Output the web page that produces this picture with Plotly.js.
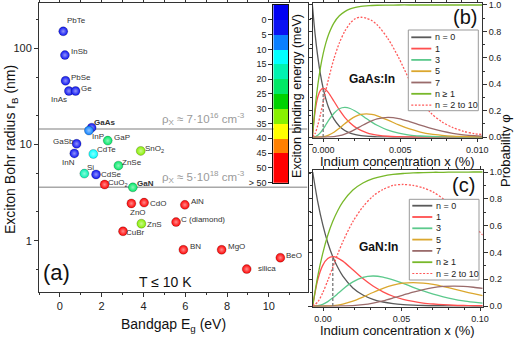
<!DOCTYPE html>
<html>
<head>
<meta charset="utf-8">
<script src="https://cdn.plot.ly/plotly-3.0.1.min.js"></script>
<style>
  html, body { margin: 0; padding: 0; background: #fff; }
  #plot { width: 518px; height: 339px; }
</style>
</head>
<body>
<div id="plot"></div>
<script>
// ---- panel (a): exciton Bohr radius vs bandgap ----
var materials = ['PbTe', 'InSb', 'PbSe', 'InAs', 'Ge', 'GaAs', 'InP', 'GaSb', 'InN', 'GaP', 'CdTe',
  'SnO<sub>2</sub>', 'ZnSe', 'Si', 'CdSe', 'CuO<sub>2</sub>', 'GaN', 'ZnO', 'CdO', 'AlN', 'ZnS',
  'C (diamond)', 'CuBr', 'BN', 'MgO', 'silica', 'BeO'];
var gapEv = [0.16, 0.24, 0.27, 0.43, 0.75, 1.52, 1.39, 0.80, 0.69, 2.29, 1.60,
  3.87, 2.80, 1.17, 1.73, 2.14, 3.49, 3.42, 4.03, 5.98, 3.90,
  5.56, 3.02, 5.91, 7.74, 8.94, 10.55];
var bohrNm = [150, 85, 46, 36, 36, 15, 14, 10.2, 8.1, 11, 8.0,
  8.6, 6.05, 5.0, 4.9, 3.85, 3.6, 2.45, 2.5, 2.37, 1.51,
  1.57, 1.26, 0.81, 0.81, 0.51, 0.67];
var bindingMeV = [2.5, 2.5, 2.5, 2.5, 2.5, 2.5, 7.5, 2.5, 2.5, 22.5, 12.5,
  32.5, 22.5, 17.5, 2.5, 55, 22.5, 55, 55, 55, 32.5,
  55, 55, 55, 55, 55, 55];
var boldLabels = ['GaAs', 'GaN'];
var rhoBohr = [14.5, 3.6];
var rhoText = ['ρ<sub>X</sub> ≈ 7·10<sup>16</sup> cm<sup>-3</sup>', 'ρ<sub>X</sub> ≈ 5·10<sup>18</sup> cm<sup>-3</sup>'];

// colour bar bands (meV)
var bandMid = [-2.5, 2.5, 7.5, 12.5, 17.5, 22.5, 27.5, 32.5, 37.5, 42.5, 47.5, 52.5];
var bandTicks = [0, 5, 10, 15, 20, 25, 30, 35, 40, 45, 50, 55];
var bandTickText = ['0', '5', '10', '15', '20', '25', '30', '35', '40', '45', '50', '> 50'];

// ---- panels (b) GaAs:In and (c) GaN:In ----
var seriesNames = ['n = 0', '1', '3', '5', '7', 'n ≥ 1', 'n = 2 to 10'];

var bX = [-0.0007, -0.000525, -0.00035, -0.000175, 0, 0.000175, 0.00035, 0.0007, 0.00105, 0.0014,
  0.00175, 0.0021, 0.00245, 0.0028, 0.00315, 0.0035, 0.0042, 0.0049, 0.0056, 0.0063,
  0.007, 0.0077, 0.0084, 0.0091, 0.0098, 0.0103];
var bN0 = [1, 0.779, 0.607, 0.472, 0.368, 0.287, 0.223, 0.135, 0.082, 0.05, 0.03, 0.018, 0.011, 0.007, 0.004, 0.002, 0.001, 0, 0, 0, 0, 0, 0, 0, 0, 0];
var bN1 = [0, 0.195, 0.303, 0.354, 0.368, 0.358, 0.335, 0.271, 0.205, 0.149, 0.106, 0.073, 0.05, 0.034, 0.022, 0.015, 0.006, 0.003, 0.001, 0, 0, 0, 0, 0, 0, 0];
var bN3 = [0, 0.002, 0.013, 0.033, 0.061, 0.093, 0.126, 0.18, 0.214, 0.224, 0.216, 0.195, 0.169, 0.14, 0.113, 0.089, 0.052, 0.029, 0.015, 0.008, 0.004, 0.002, 0.001, 0, 0, 0];
var bN5 = [0, 0, 0, 0.001, 0.003, 0.007, 0.014, 0.036, 0.067, 0.101, 0.132, 0.156, 0.171, 0.175, 0.171, 0.161, 0.128, 0.092, 0.061, 0.038, 0.022, 0.013, 0.007, 0.004, 0.002, 0.001];
var bN7 = [0, 0, 0, 0, 0, 0, 0.001, 0.003, 0.01, 0.022, 0.039, 0.06, 0.082, 0.104, 0.123, 0.138, 0.149, 0.14, 0.117, 0.09, 0.065, 0.044, 0.028, 0.017, 0.01, 0.007];
var bAny = [0, 0.221, 0.393, 0.528, 0.632, 0.713, 0.777, 0.865, 0.918, 0.95, 0.97, 0.982, 0.989, 0.993, 0.996, 0.998, 0.999, 1, 1, 1, 1, 1, 1, 1, 1, 1];
var bMid = [0, 0.027, 0.09, 0.173, 0.264, 0.355, 0.442, 0.594, 0.713, 0.801, 0.862, 0.898, 0.907, 0.9, 0.882, 0.85, 0.745, 0.6, 0.43, 0.28, 0.18, 0.115, 0.072, 0.043, 0.026, 0.019];
var bPeakX = [0, 0];
var bPeakY = [0, 0.368];

var cX = [-0.0066, -0.0034, -0.0002, 0.003, 0.0062, 0.0094, 0.0126, 0.019, 0.0254, 0.0318,
  0.0382, 0.0446, 0.051, 0.0574, 0.0638, 0.0702, 0.0766, 0.083, 0.0894, 0.0958, 0.1017];
var cN0 = [1, 0.779, 0.607, 0.472, 0.368, 0.287, 0.223, 0.135, 0.082, 0.05, 0.03, 0.018, 0.011, 0.007, 0.004, 0.002, 0.002, 0.001, 0.001, 0, 0];
var cN1 = [0, 0.195, 0.303, 0.354, 0.368, 0.358, 0.335, 0.271, 0.205, 0.149, 0.106, 0.073, 0.05, 0.034, 0.022, 0.015, 0.01, 0.006, 0.004, 0.003, 0.002];
var cN3 = [0, 0.002, 0.013, 0.033, 0.061, 0.093, 0.126, 0.18, 0.214, 0.224, 0.216, 0.195, 0.169, 0.14, 0.113, 0.089, 0.069, 0.052, 0.039, 0.029, 0.021];
var cN5 = [0, 0, 0, 0.001, 0.003, 0.007, 0.014, 0.036, 0.067, 0.101, 0.132, 0.156, 0.171, 0.175, 0.171, 0.161, 0.145, 0.128, 0.109, 0.092, 0.077];
var cN7 = [0, 0, 0, 0, 0, 0, 0.001, 0.003, 0.01, 0.022, 0.039, 0.06, 0.082, 0.104, 0.123, 0.138, 0.146, 0.149, 0.147, 0.14, 0.131];
var cAny = [0, 0.221, 0.393, 0.528, 0.632, 0.713, 0.777, 0.865, 0.918, 0.95, 0.97, 0.982, 0.989, 0.993, 0.996, 0.998, 0.998, 0.999, 0.999, 1, 1];
var cMid = [0, 0.03, 0.1, 0.19, 0.29, 0.39, 0.48, 0.63, 0.74, 0.82, 0.87, 0.9, 0.907, 0.9, 0.882, 0.85, 0.8, 0.745, 0.675, 0.6, 0.53];
var cPeakX = [0.0062, 0.0062];
var cPeakY = [0, 0.368];

// ---- styling ----
var W = 518, H = 339;
function px(x) { return x / W; }
function py(y) { return 1 - y / H; }
var FONT = 'Liberation Sans, Arial, sans-serif';

var bandColors = ['#0000f2', '#0a12f2', '#0a7fff', '#00ffff', '#00f2b0', '#00e866', '#00d200',
  '#88f000', '#ffff00', '#ff8000', '#ff0000', '#ff0000'];
var lineColors = ['#5a5a5a', '#ff4f4f', '#5cc98c', '#dba72e', '#9a6b6b', '#78b82a', '#ff5a5a'];
var lineDash = ['solid', 'solid', 'solid', 'solid', 'solid', 'solid', '2px,1.6px'];

function bandColor(eb) {
  var k = Math.floor((eb + 5) / 5);
  return bandColors[Math.max(0, Math.min(bandColors.length - 1, k))];
}
function lighten(hex, t) {
  var r = parseInt(hex.substr(1, 2), 16), g = parseInt(hex.substr(3, 2), 16), b = parseInt(hex.substr(5, 2), 16);
  r = Math.round(r + (255 - r) * t); g = Math.round(g + (255 - g) * t); b = Math.round(b + (255 - b) * t);
  return 'rgb(' + r + ',' + g + ',' + b + ')';
}

var traces = [];

// density reference lines across panel (a)
var aRange = [-1, 11.85];
rhoBohr.forEach(function (r) {
  traces.push({
    x: aRange, y: [r, r], xaxis: 'x', yaxis: 'y', mode: 'lines',
    line: { color: '#a8a8a8', width: 1.5 }, hoverinfo: 'skip', showlegend: false
  });
});

var pointColors = bindingMeV.map(bandColor);
traces.push({
  x: gapEv, y: bohrNm, xaxis: 'x', yaxis: 'y', mode: 'markers', type: 'scatter',
  marker: {
    size: 9, color: pointColors,
    gradient: { type: 'radial', color: pointColors.map(function (c) { return lighten(c, 0.55); }) },
    line: { width: 0.6, color: 'rgba(0,0,0,0.35)' }
  },
  hoverinfo: 'skip', showlegend: false
});

// colour bar drawn as a one-column heatmap
var scale = [];
bandColors.forEach(function (c, i) {
  scale.push([i / bandColors.length, c]);
  scale.push([(i + 1) / bandColors.length, c]);
});
traces.push({
  type: 'heatmap', x: [0], y: bandMid, z: bandMid.map(function (v) { return [v]; }),
  colorscale: scale, zmin: -5, zmax: 55, showscale: false,
  xaxis: 'x4', yaxis: 'y4', hoverinfo: 'skip'
});

function panelTraces(xs, ys, xa, ya, peakX, peakY) {
  ys.forEach(function (y, i) {
    traces.push({
      x: xs, y: y, xaxis: xa, yaxis: ya, type: 'scatter', mode: 'lines', name: seriesNames[i],
      line: { color: lineColors[i], width: 1.3, dash: lineDash[i], shape: 'spline', smoothing: 0.8 },
      hoverinfo: 'skip', showlegend: false
    });
  });
  traces.push({
    x: peakX, y: peakY, xaxis: xa, yaxis: ya, mode: 'lines',
    line: { color: '#777', width: 1.3, dash: '3px,2px' }, hoverinfo: 'skip', showlegend: false
  });
}
panelTraces(bX, [bN0, bN1, bN3, bN5, bN7, bAny, bMid], 'x2', 'y2', bPeakX, bPeakY);
panelTraces(cX, [cN0, cN1, cN3, cN5, cN7, cAny, cMid], 'x3', 'y3', cPeakX, cPeakY);

// ---- annotations ----
var ann = [];
var labelShift = [[13.4, -10.6], [14.3, -3.3], [15, -3.7], [-9.7, 8], [11, -3], [12.6, -5], [9.3, 6.4],
  [-13.4, -2.3], [-6, 9.4], [14, -3], [13.4, -4], [13.3, -2], [13.4, -3], [5.7, -6.4], [15.7, 0.3],
  [13.6, -1.4], [12.3, -4], [7, 8.6], [14.3, 0.6], [12.6, -3.3], [12.7, 0.3], [27.3, -3], [12, 1.4],
  [11.7, -3.3], [14.7, -3.3], [20, -1], [13.3, -2]];
materials.forEach(function (m, i) {
  var bold = boldLabels.indexOf(m) >= 0;
  ann.push({
    x: gapEv[i], y: Math.log10(bohrNm[i]), xref: 'x', yref: 'y', showarrow: false,
    xanchor: 'center', yanchor: 'middle',
    text: bold ? '<b>' + m + '</b>' : m, xshift: labelShift[i][0], yshift: -labelShift[i][1],
    font: { size: 8, color: '#333' }
  });
});
rhoBohr.forEach(function (r, i) {
  ann.push({
    x: 8.95, y: Math.log10(r), xref: 'x', yref: 'y', xanchor: 'right', yanchor: 'bottom', yshift: 0,
    showarrow: false, text: rhoText[i], font: { size: 11.5, color: '#9a9a9a' }
  });
});

function note(text, x, y, size, opts) {
  var a = { text: text, x: px(x), y: py(y), xref: 'paper', yref: 'paper', showarrow: false,
    xanchor: 'center', yanchor: 'middle', font: { size: size, color: '#111' } };
  for (var k in (opts || {})) a[k] = opts[k];
  ann.push(a);
}
note('(a)', 56, 272, 22);
note('T ≤ 10 K', 165, 282, 14);
note('(b)', 465, 17, 20);
note('(c)', 463, 185, 20);
note('<b>GaAs:In</b>', 372, 79, 12);
note('<b>GaN:In</b>', 378, 247, 12);
note('Exciton Bohr radius r<sub>B</sub> (nm)', 11, 150, 14, { textangle: -90 });
note('Bandgap E<sub>g</sub> (eV)', 173, 325, 14);
note('Indium concentration x (%)', 397, 161.5, 13);
note('Indium concentration x (%)', 397, 330.5, 13);
note('Probability φ', 506, 151, 13, { textangle: -90 });
note('Exciton binding energy (meV)', 297, 96, 12.5, { textangle: -90 });

// ---- legends for (b) and (c) ----
var shapes = [];
function addLegend(left, top, right, bottom, firstY) {
  shapes.push({ type: 'rect', xref: 'paper', yref: 'paper', x0: px(left), x1: px(right), y0: py(bottom), y1: py(top),
    line: { color: '#999', width: 1 }, fillcolor: '#fff' });
  seriesNames.forEach(function (n, i) {
    var yy = firstY + 11.3 * i;
    shapes.push({ type: 'line', xref: 'paper', yref: 'paper', x0: px(left + 3), x1: px(left + 23), y0: py(yy), y1: py(yy),
      line: { color: lineColors[i], width: i === 6 ? 1.2 : 1.8, dash: lineDash[i] } });
    ann.push({ text: n, x: px(left + 25), y: py(yy), xref: 'paper', yref: 'paper', xanchor: 'left', yanchor: 'middle',
      showarrow: false, font: { size: 9, color: '#222' } });
  });
}
addLegend(408.3, 30, 478.3, 110.7, 37.3);
addLegend(409.3, 199.3, 479, 280, 205.7);

// ---- axes ----
var axisBase = {
  showline: true, linecolor: '#333', linewidth: 1, mirror: 'ticks', showgrid: false, zeroline: false,
  ticks: 'outside', ticklen: 4, tickcolor: '#333', tickfont: { size: 11, color: '#222' }
};
function ax(extra) {
  var o = JSON.parse(JSON.stringify(axisBase));
  for (var k in extra) o[k] = extra[k];
  return o;
}

var layout = {
  width: W, height: H, margin: { l: 0, r: 0, t: 0, b: 0, pad: 0, autoexpand: false },
  paper_bgcolor: '#fff', plot_bgcolor: 'rgba(0,0,0,0)',
  font: { family: FONT, color: '#222' },
  showlegend: false,
  xaxis: ax({ domain: [px(39), px(307.5)], anchor: 'y', range: aRange, tick0: 0, dtick: 2,
    minor: { dtick: 1, ticks: 'outside', ticklen: 2, tickcolor: '#333' } }),
  yaxis: ax({ domain: [py(292), py(3)], anchor: 'x', type: 'log', range: [-0.53, 2.47],
    tickvals: [1, 10, 100], ticktext: ['1', '10', '100'],
    minor: { tickvals: [0.5, 2, 5, 20, 50, 200], ticks: 'outside', ticklen: 2, tickcolor: '#333' } }),
  xaxis2: ax({ domain: [px(312.7), px(482)], anchor: 'y2', range: [-0.00068, 0.0103], ticklen: 3,
    tickvals: [0, 0.005, 0.01], ticktext: ['0.000', '0.005', '0.010'], tickfont: { size: 9, color: '#222' },
    minor: { dtick: 0.001, tick0: 0, ticks: 'outside', ticklen: 2, tickcolor: '#333' } }),
  yaxis2: ax({ domain: [py(137.7), py(3)], anchor: 'x2', side: 'right', range: [-0.005, 1.015],
    tick0: 0, dtick: 0.2, tickformat: '.1f', tickfont: { size: 9, color: '#222' },
    minor: { dtick: 0.1, ticks: 'outside', ticklen: 2, tickcolor: '#333' } }),
  xaxis3: ax({ domain: [px(312.7), px(482.7)], anchor: 'y3', range: [-0.0066, 0.1017], ticklen: 3,
    tickvals: [0, 0.05, 0.1], ticktext: ['0.00', '0.05', '0.10'], tickfont: { size: 9, color: '#222' },
    minor: { dtick: 0.01, tick0: 0, ticks: 'outside', ticklen: 2, tickcolor: '#333' } }),
  yaxis3: ax({ domain: [py(306.7), py(170)], anchor: 'x3', side: 'right', range: [-0.005, 1.015],
    tick0: 0, dtick: 0.2, tickformat: '.1f', tickfont: { size: 9, color: '#222' },
    minor: { dtick: 0.1, ticks: 'outside', ticklen: 2, tickcolor: '#333' } }),
  xaxis4: { domain: [px(273.3), px(288.3)], anchor: 'y4', range: [-0.5, 0.5], showticklabels: false,
    ticks: '', showgrid: false, zeroline: false, showline: true, mirror: true, linecolor: '#111', linewidth: 1 },
  yaxis4: { domain: [py(182.7), py(5)], anchor: 'x4', range: [55, -5], side: 'left',
    tickvals: bandTicks, ticktext: bandTickText, ticks: 'outside', ticklen: 4, tickcolor: '#333',
    tickfont: { size: 9, color: '#222' }, showgrid: false, zeroline: false,
    showline: true, mirror: true, linecolor: '#111', linewidth: 1 },
  shapes: shapes,
  annotations: ann
};

Plotly.newPlot('plot', traces, layout, { displayModeBar: false, staticPlot: true });
</script>
</body>
</html>
